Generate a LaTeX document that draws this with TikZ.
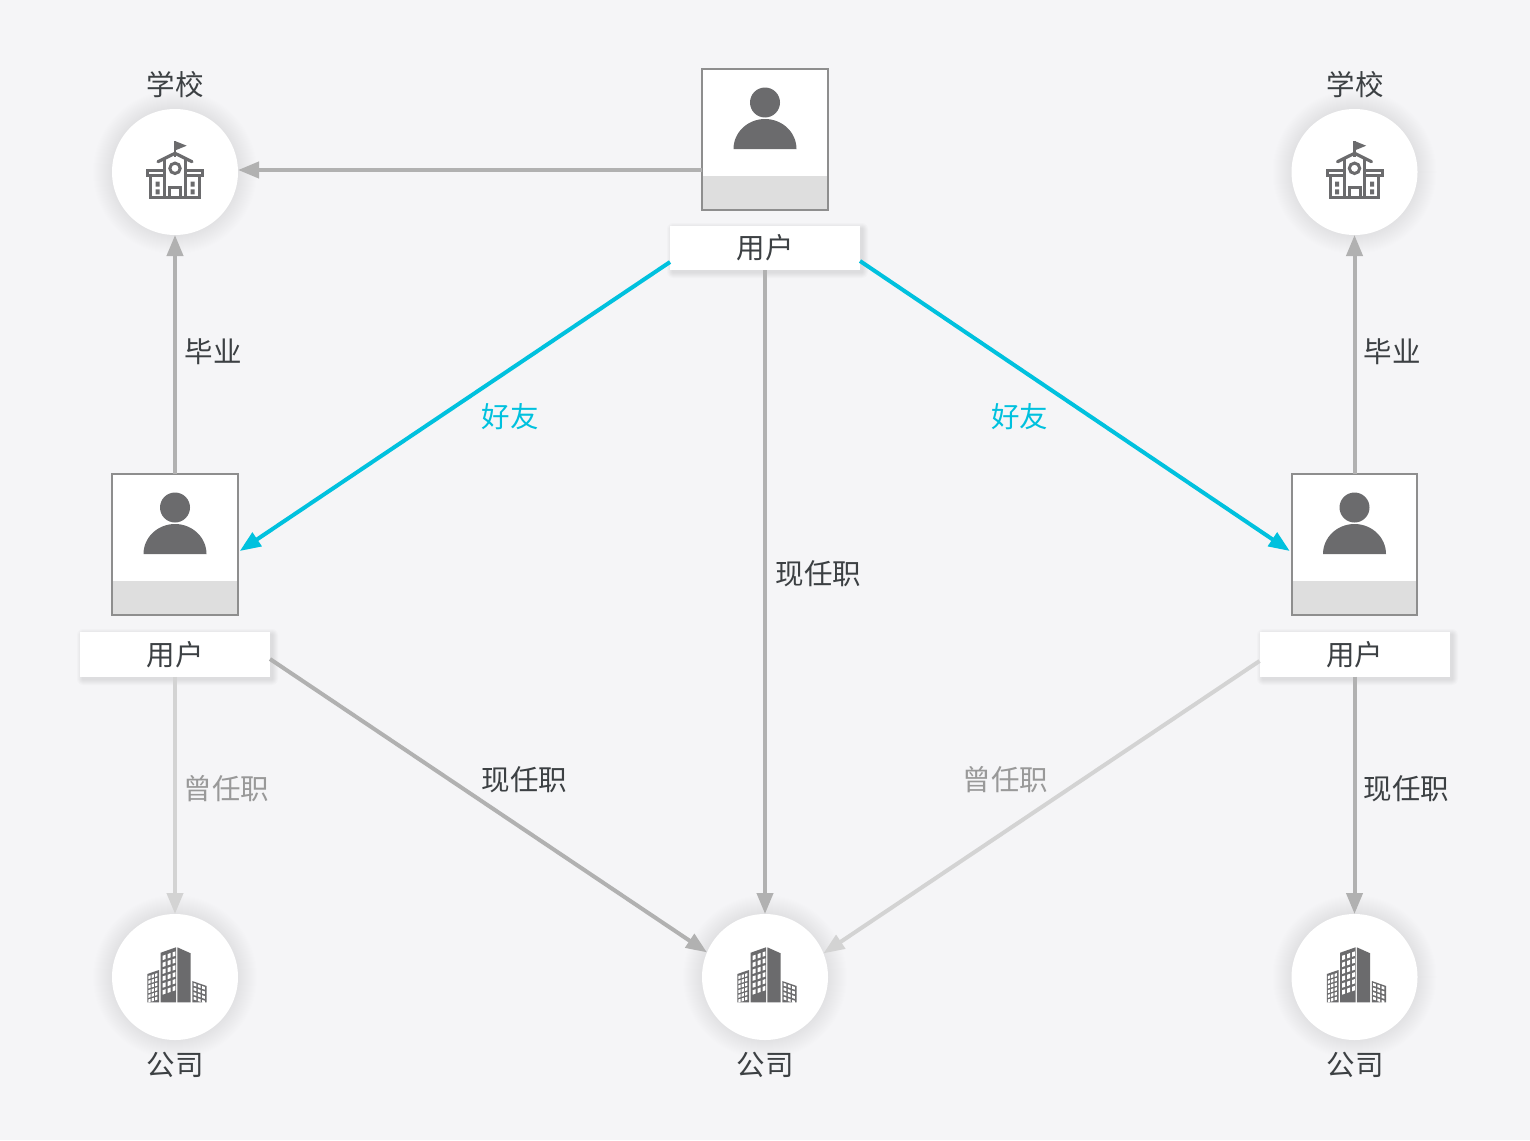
\documentclass[tikz,border=0pt]{standalone}
\usepackage{fontspec}
\setmainfont{Noto Sans CJK SC}
\usetikzlibrary{arrows.meta,calc}
\definecolor{bgc}{HTML}{F5F5F7}
\definecolor{edgeg}{HTML}{B1B1B1}
\definecolor{edgel}{HTML}{D3D3D3}
\definecolor{edgeb}{HTML}{00C1DE}
\definecolor{txtd}{HTML}{3C4043}
\definecolor{txtl}{HTML}{999999}
\definecolor{icon}{HTML}{6B6B6D}
\definecolor{bandc}{HTML}{DEDEDE}
\definecolor{framec}{HTML}{8E8E8E}
\tikzset{
  txt/.style={font=\fontsize{28.5}{28.5}\selectfont,text=txtd,inner sep=0pt},
  txtgrey/.style={txt,text=txtl},
  txtblue/.style={txt,text=edgeb},
  circnode/.style={circle,fill=white,minimum size=126pt,inner sep=0pt,outer sep=0pt},
  photobox/.style={rectangle,fill=white,minimum width=125.5pt,minimum height=141pt,inner sep=0pt,outer sep=0pt},
  labelbox/.style={rectangle,fill=white,minimum width=190pt,minimum height=44.5pt,inner sep=0pt,outer sep=0pt,txt},
  conn/.style={line width=4pt,-{Triangle[length=21pt,width=16pt]}},
  conngrey/.style={conn,edgeg},
  connlight/.style={conn,edgel},
  connblue/.style={conn,edgeb},
}
\newcommand{\softcircle}[2]{%
  \foreach \rr in {82,81,...,63}{\fill[black,opacity=0.004] (#1,#2) circle[radius=\rr pt];}}
\newcommand{\softbox}[4]{%
  \foreach \ss in {1,2,...,6}{\fill[black,opacity=0.014,rounded corners=\ss pt]
    (#1-\ss+3,#2-\ss+3) rectangle (#3+\ss+2,#4+\ss+2);}}
\newcommand{\schoolicon}[2]{%
  \begin{scope}[shift={(#1,#2)},icon]
    \draw[line width=2.4pt] (0,-31) -- (0,-15);
    \fill (0,-31) -- (11.7,-26.3) -- (0,-21.5) -- cycle;
    \draw[line width=3.2pt,line join=round,line cap=round] (-17,-10.3) -- (0,-18.7) -- (17,-10.3);
    \draw[line width=3pt] (-27.5,-1.7) rectangle (-10.3,3.5);
    \draw[line width=3pt] (27.5,-1.7) rectangle (10.3,3.5);
    \draw[line width=3pt] (-24.3,4) -- (-24.3,25) -- (24.3,25) -- (24.3,4);
    \draw[line width=3pt] (-10.3,-13) -- (-10.3,25) (10.3,-13) -- (10.3,25);
    \draw[line width=3pt] (0,-3.7) circle[radius=5.2pt];
    \draw[line width=3pt] (-5.5,25) -- (-5.5,15) -- (5.5,15) -- (5.5,25);
    \fill (-19.5,9.7) rectangle (-15.5,14.7) (-19.5,17.3) rectangle (-15.5,22.3);
    \fill (15.5,9.7) rectangle (19.5,14.7) (15.5,17.3) rectangle (19.5,22.3);
  \end{scope}}
\newcommand{\personicon}[2]{%
  \begin{scope}[shift={(#1,#2)},icon]
    \fill (0,-37) circle[radius=15pt];
    \fill (-31.5,9.5) arc[start angle=180,end angle=0,x radius=31.5pt,y radius=30pt] -- cycle;
  \end{scope}}
\newcommand{\buildicon}[2]{%
  \begin{scope}[shift={(#1,#2)}]
    \fill[icon] (-14.3,25.3) -- (-14.3,-24.3) -- (1,-29.7) -- (1,25.3) -- cycle;
    \fill[icon] (2.3,25.3) -- (2.3,-29.7) -- (15.7,-23.7) -- (15.7,25.3) -- cycle;
    \fill[icon] (-27.7,25.3) -- (-27.7,-3) -- (-16,-7) -- (-16,25.3) -- cycle;
    \fill[icon] (17.3,25.3) -- (17.3,4) -- (31.7,9) -- (31.7,25.3) -- cycle;
    \foreach \cx in {0,1,2}{\foreach \ry in {0,...,5}{
      \pgfmathsetmacro{\wx}{-12.3+4.9*\cx}
      \pgfmathsetmacro{\wy}{-21.3-1.65*\cx+6.9*\ry}
      \fill[white] (\wx,\wy) -- (\wx+2.9,\wy-1) -- (\wx+2.9,\wy+3.4) -- (\wx,\wy+4.4) -- cycle;
      \pgfmathsetmacro{\ax}{-26.7+3.4*\cx}
      \pgfmathsetmacro{\ay}{-1-1.1*\cx+4.7*\ry}
      \fill[white] (\ax,\ay) -- (\ax+2.2,\ay-.7) -- (\ax+2.2,\ay+2.4) -- (\ax,\ay+3.1) -- cycle;
    }}
    \foreach \cx in {0,1,2}{\foreach \ry in {0,...,3}{
      \pgfmathsetmacro{\bx}{18.7+4.2*\cx}
      \pgfmathsetmacro{\by}{6+1.5*\cx+4.6*\ry}
      \fill[white] (\bx,\by) -- (\bx+2.7,\by+.9) -- (\bx+2.7,\by+3.6) -- (\bx,\by+2.7) -- cycle;
    }}
  \end{scope}}
\begin{document}
\begin{tikzpicture}[x=1pt,y=-1pt]
\useasboundingbox (0,0) rectangle (1530,1140);
\fill[bgc] (0,0) rectangle (1530,1140);
% shadows
\softcircle{175}{172}\softcircle{1354.5}{172}
\softcircle{175}{977}\softcircle{765}{977}\softcircle{1354.5}{977}
\softbox{670}{226}{860}{270}
\softbox{80}{632}{270}{677}
\softbox{1260}{632}{1450}{677}
% circles
\node[circnode] (schoolL) at (175,172) {};
\node[circnode] (schoolR) at (1354.5,172) {};
\node[circnode] (compL) at (175,977) {};
\node[circnode] (compM) at (765,977) {};
\node[circnode] (compR) at (1354.5,977) {};
\schoolicon{175}{172}\schoolicon{1354.5}{172}
\buildicon{175}{977}\buildicon{765}{977}\buildicon{1354.5}{977}
% photos
\node[photobox] (photoT) at (765,139.5) {};
\node[photobox] (photoL) at (175,544.5) {};
\node[photobox] (photoR) at (1354.5,544.5) {};
\fill[bandc] (702,176) rectangle (828,210);
\fill[bandc] (113,581) rectangle (238,615);
\fill[bandc] (1292,581) rectangle (1417,615);
\draw[framec,line width=2pt] (photoT.north west) rectangle (photoT.south east);
\draw[framec,line width=2pt] (photoL.north west) rectangle (photoL.south east);
\draw[framec,line width=2pt] (photoR.north west) rectangle (photoR.south east);
\personicon{765}{139.5}\personicon{175}{544.5}\personicon{1354.5}{544.5}
% user labels
\node[labelbox] (labT) at (765,248) {\raisebox{-1pt}{用户}};
\node[labelbox] (labL) at (175,654.5) {用户};
\node[labelbox] (labR) at (1354.5,654.5) {\raisebox{1.5pt}{用户}};
% connectors
\draw[conngrey] ($(photoT.west)+(0,30.5)$) -- ($(schoolL.east)+(0,-2)$);
\draw[conngrey] (photoL.north) -- (schoolL.south);
\draw[conngrey] (photoR.north) -- (schoolR.south);
\draw[connblue] ($(labT.west)+(0,14)$) -- ($(photoL.east)+(2,6.5)$);
\draw[connblue] ($(labT.east)+(0,13)$) -- ($(photoR.west)+(-2,6.5)$);
\draw[conngrey] (labT.south) -- (compM.north);
\draw[connlight] (labL.south) -- (compL.north);
\draw[conngrey] (labR.south) -- (compR.north);
\draw[conngrey] ($(labL.east)+(0,4.5)$) -- (compM.157);
\draw[connlight] ($(labR.west)+(0,6.5)$) -- (compM.22);
% texts
\node[txt] (tSchoolL) at (175,85) {学校};
\node[txt] (tSchoolR) at (1355,85) {学校};
\node[txt] (tCompL) at (175,1065) {公司};
\node[txt] (tCompM) at (765,1065) {公司};
\node[txt] (tCompR) at (1355,1065) {公司};
\node[txt] (e1) at (213,352) {毕业};
\node[txt] (e2) at (1392,352) {毕业};
\node[txtblue] (e3) at (510,417) {好友};
\node[txtblue] (e4) at (1019.5,417) {好友};
\node[txt] (e5) at (818.5,573.5) {现任职};
\node[txt] (e6) at (524.5,780) {现任职};
\node[txt] (e7) at (1406.5,788.5) {现任职};
\node[txtgrey] (e8) at (226.5,788.5) {曾任职};
\node[txtgrey] (e9) at (1005.5,780) {曾任职};
\end{tikzpicture}
\end{document}
